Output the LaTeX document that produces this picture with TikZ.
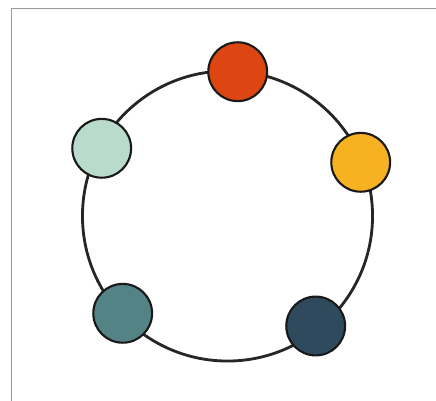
\documentclass[tikz,border=0pt]{standalone}
\usepackage{tikz}
\usetikzlibrary{positioning}

\definecolor{rust}{HTML}{DD4613}
\definecolor{amber}{HTML}{F6B220}
\definecolor{mint}{HTML}{B8DBCB}
\definecolor{sea}{HTML}{538385}
\definecolor{slate}{HTML}{2F4A5C}
\definecolor{framegray}{HTML}{9A9A9A}

\begin{document}
\begin{tikzpicture}[x=0.025cm,y=-0.025cm]
\tikzstyle{bead}=[draw=black!90, line width=1.5pt, circle, inner sep=0pt,
minimum size=1.47cm]
\tikzstyle{ring}=[draw=black!85, line width=2pt, circle, inner sep=0pt,
minimum size=7.25cm]

\useasboundingbox (0,0) rectangle (436,401);

% frame
\draw[framegray, line width=1.1pt] (11.5,401) -- (11.5,8.5) -- (436,8.5);

% big circle
\node[ring] (loop) at (227.5,216) {};

% beads on the circle
\node[bead, fill=rust]  (top)   at (237.7,71.7)  {};
\node[bead, fill=amber] (right) at (360.7,162.3) {};
\node[bead, fill=mint]  (left)  at (101.7,148.3) {};
\node[bead, fill=sea]   (lowl)  at (122.7,313.3) {};
\node[bead, fill=slate] (lowr)  at (315.7,326)   {};

\end{tikzpicture}
\end{document}
